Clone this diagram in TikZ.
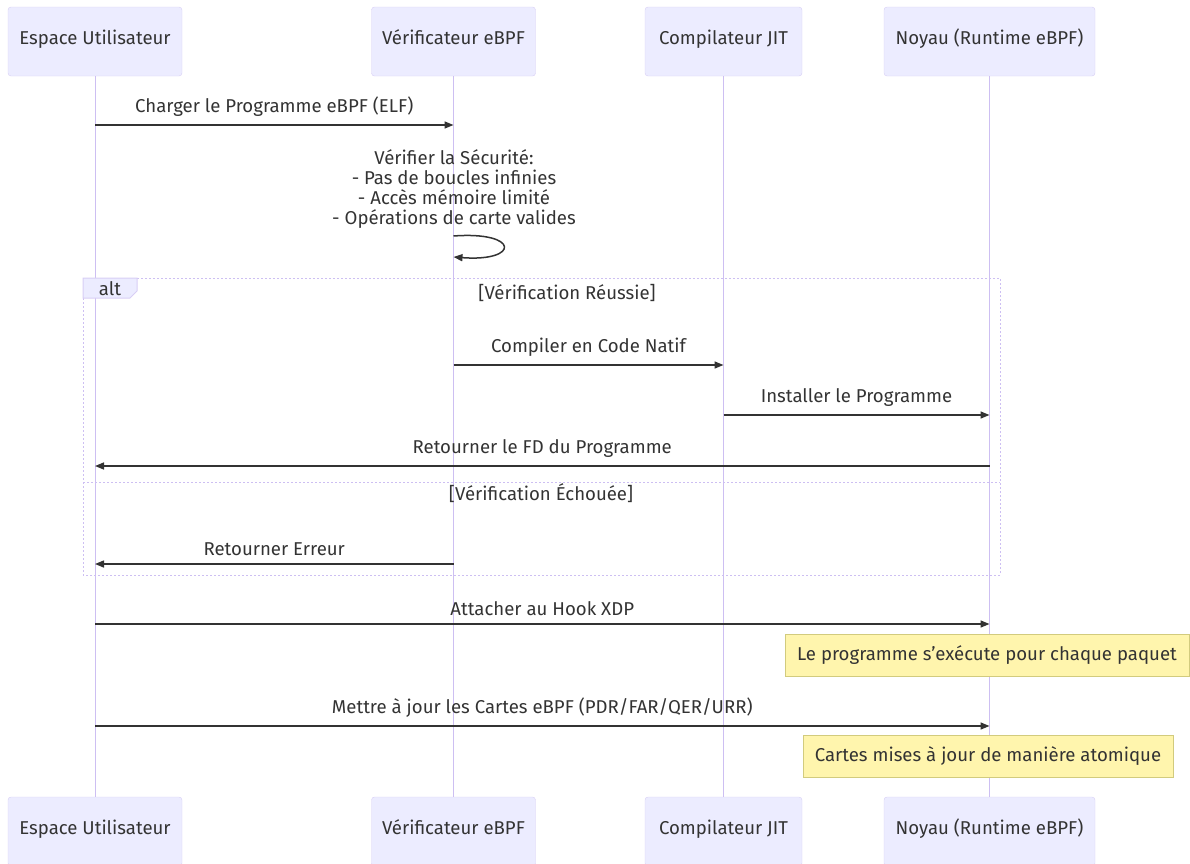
\documentclass[tikz,border=0pt]{standalone}
\usepackage{fontspec}
\setmainfont{Fira Sans}
\usetikzlibrary{arrows.meta}
\definecolor{actfill}{HTML}{ECECFF}
\definecolor{actline}{HTML}{D8CEF5}
\definecolor{lifecol}{HTML}{CDBFF2}
\definecolor{txt}{HTML}{333333}
\definecolor{notefill}{HTML}{FFF5AD}
\definecolor{noteline}{HTML}{D2CB7E}
\tikzset{
  actor/.style={draw=actline,fill=actfill,rounded corners=3pt,minimum width=#1,
    minimum height=69pt,inner sep=0pt,text=txt,text height=1.45ex,text depth=0.35ex},
  lifeline/.style={draw=lifecol,line width=1pt},
  msg/.style={draw=txt,line width=1.5pt,-{Triangle[length=9pt,width=7pt]}},
  lbl/.style={text=txt,inner sep=0pt},
  note/.style={draw=noteline,fill=notefill,line width=0.8pt,minimum width=#1,
    minimum height=42pt,inner sep=0pt,text=txt},
  altline/.style={draw=lifecol,line width=1pt,dash pattern=on 2pt off 2pt}
}
\begin{document}
\begin{tikzpicture}[x=1pt,y=-1pt,font=\fontsize{18.6}{19.8}\selectfont]
\useasboundingbox (0,0) rectangle (1190,863);
% participants (haut et bas)
\node[actor=174pt] (usr) at (95,41.5) {Espace Utilisateur};
\node[actor=164pt] (ver) at (453.5,41.5) {Vérificateur eBPF};
\node[actor=157pt] (jit) at (723.5,41.5) {Compilateur JIT};
\node[actor=211pt] (krn) at (989.5,41.5) {Noyau (Runtime eBPF)};
\node[actor=174pt] (usrB) at (95,831.5) {Espace Utilisateur};
\node[actor=164pt] (verB) at (453.5,831.5) {Vérificateur eBPF};
\node[actor=157pt] (jitB) at (723.5,831.5) {Compilateur JIT};
\node[actor=211pt] (krnB) at (989.5,831.5) {Noyau (Runtime eBPF)};
% lignes de vie
\draw[lifeline] (usr) -- (usrB);
\draw[lifeline] (ver) -- (verB);
\draw[lifeline] (jit) -- (jitB);
\draw[lifeline] (krn) -- (krnB);
% bloc alt
\draw[altline] (83,278) rectangle (1000,575);
\draw[altline] (83,482) -- (1000,482);
\filldraw[fill=actfill,draw=actline,line width=1pt] (83,278) -- (137,278) -- (137,291) -- (130,298) -- (83,298) -- cycle;
\node[lbl] (alt) at (110,289) {alt};
\node[lbl] (okcase) at (567,293) {[Vérification Réussie]};
\node[lbl] (kocase) at (541,493) {[Vérification Échouée]};
% messages
\coordinate (m1) at (0,125);
\draw[msg] (usr |- m1) -- (ver |- m1) node[lbl,midway,above=8pt] {Charger le Programme eBPF (ELF)};
\node[lbl,align=center] (chk) at (454,189) {Vérifier la Sécurité:\\- Pas de boucles infinies\\- Accès mémoire limité\\- Opérations de carte valides};
\coordinate (s1) at (0,236);
\coordinate (s2) at (0,257);
\draw[msg] (ver |- s1) .. controls (520,231) and (520,262) .. (ver |- s2);
\coordinate (m2) at (0,365);
\draw[msg] (ver |- m2) -- (jit |- m2) node[lbl,midway,above=8pt] {Compiler en Code Natif};
\coordinate (m3) at (0,415);
\draw[msg] (jit |- m3) -- (krn |- m3) node[lbl,midway,above=8pt] {Installer le Programme};
\coordinate (m4) at (0,466);
\draw[msg] (krn |- m4) -- (usr |- m4) node[lbl,midway,above=8pt] {Retourner le FD du Programme};
\coordinate (m5) at (0,564);
\draw[msg] (ver |- m5) -- (usr |- m5) node[lbl,midway,above=8pt] {Retourner Erreur};
\coordinate (m6) at (0,624);
\draw[msg] (usr |- m6) -- (krn |- m6) node[lbl,midway,above=8pt] {Attacher au Hook XDP};
\node[note=404pt] (n1) at (987,655.5) {Le programme s'exécute pour chaque paquet};
\coordinate (m7) at (0,726);
\draw[msg] (usr |- m7) -- (krn |- m7) node[lbl,midway,above=8pt] {Mettre à jour les Cartes eBPF (PDR/FAR/QER/URR)};
\node[note=370pt] (n2) at (988,756.5) {Cartes mises à jour de manière atomique};
\end{tikzpicture}
\end{document}
